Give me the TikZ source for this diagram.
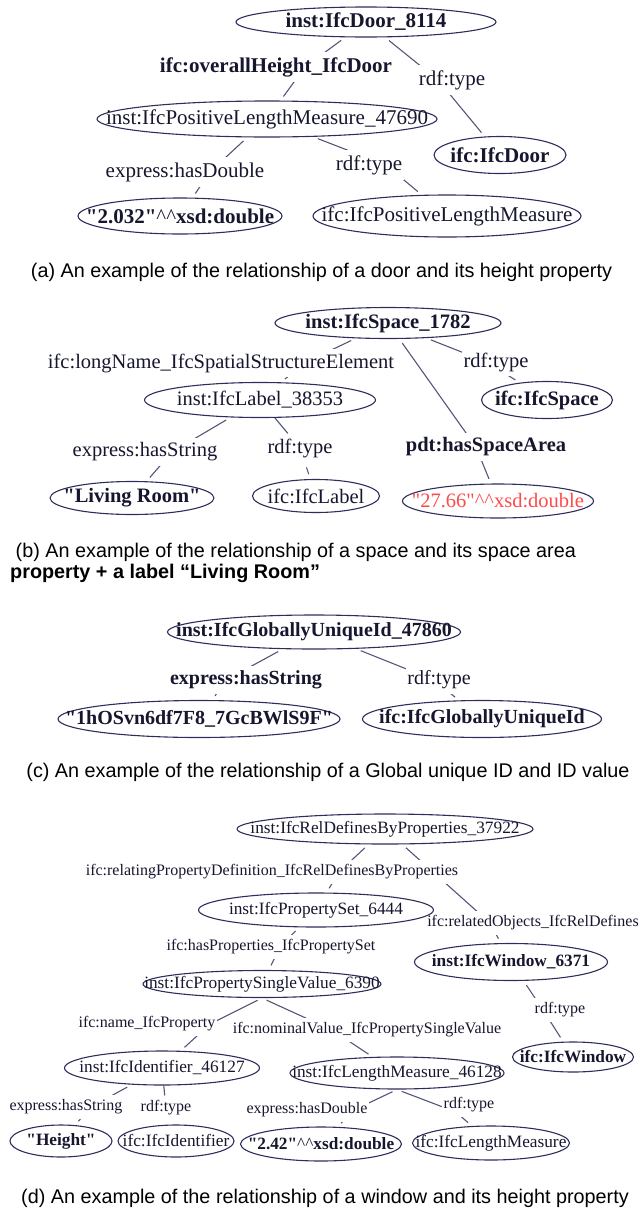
\documentclass[tikz,border=0pt]{standalone}
\usepackage{fontspec}
\setmainfont{Liberation Serif}[Ligatures=TeXOff]
\newfontfamily\capfont{Liberation Sans}
\usetikzlibrary{shapes.geometric,calc}
\pgfdeclarelayer{background}
\pgfsetlayers{background,main}
\definecolor{ellc}{HTML}{2E2E5C}
\definecolor{edgec}{HTML}{55557A}
\definecolor{txtc}{HTML}{16162E}
\definecolor{redt}{HTML}{FF4A4A}
\newcommand\zb[1]{\makebox[0pt]{#1}}
\newcommand\cc{\textasciicircum\textasciicircum}
\newcommand\dq{"}
\tikzset{
  nd/.style 2 args={ellipse, draw=ellc, line width=1.1pt, fill=white, inner sep=0pt,
    text=txtc, minimum width=#1pt, minimum height=#2pt},
  lb/.style={fill=white, inner xsep=1.5pt, inner ysep=5pt, text=txtc},
  edge/.style={draw=edgec, line width=1.1pt, shorten <=5pt, shorten >=5pt},
  fa/.style={font=\fontsize{21}{25}\selectfont},
  fb/.style={font=\fontsize{20.5}{24}\selectfont},
  fc/.style={font=\fontsize{20}{24}\selectfont},
  fd/.style={font=\fontsize{17.3}{20}\selectfont},
  fdl/.style={font=\fontsize{16}{19}\selectfont},
  capt/.style={font=\capfont\fontsize{19.8}{21}\selectfont, text=black, inner sep=0pt}
}
\begin{document}
\begin{tikzpicture}[x=1pt,y=-1pt]
\useasboundingbox (0,0) rectangle (641,1210);

% ---------- (a) ----------
\node[lb,fa] (oh)  at (276,67)  {\bfseries ifc:overallHeight\_IfcDoor};
\node[lb,fa] (rt1) at (452,80)  {rdf:type};
\node[lb,fa] (hd)  at (185,172) {express:hasDouble};
\node[lb,fa] (rt2) at (369,165) {rdf:type};
\node[nd={260}{30},fa] (door)    at (366,22)  {\zb{\bfseries inst:IfcDoor\_8114}};
\node[nd={340}{36},fa] (plm)     at (267,119) {\zb{inst:IfcPositiveLengthMeasure\_47690}};
\node[nd={132}{37},fa] (ifcdoor) at (500,155) {\zb{\bfseries ifc:IfcDoor}};
\node[nd={204}{36},fa] (v2032)   at (180,216) {\zb{\textbf{\dq2.032\dq}\cc\textbf{xsd:double}}};
\node[nd={268}{42},fa] (iplm)    at (447,216) {\zb{ifc:IfcPositiveLengthMeasure}};
\node[capt] (capa) at (321.5,272) {(a) An example of the relationship of a door and its height property};

% ---------- (b) ----------
\node[lb,fb] (ln)   at (221,363) {ifc:longName\_IfcSpatialStructureElement};
\node[lb,fb] (rtb1) at (496,362) {rdf:type};
\node[lb,fb] (hs)   at (145,452) {express:hasString};
\node[lb,fb] (rtb2) at (300,448) {rdf:type};
\node[lb,fb] (pdt)  at (486,447) {\bfseries pdt:hasSpaceArea};
\node[nd={226}{31},fb] (space)    at (388,323) {\zb{\bfseries inst:IfcSpace\_1782}};
\node[nd={231}{35},fb] (ilabel)   at (260,400) {\zb{inst:IfcLabel\_38353}};
\node[nd={131}{37},fb] (ifcspace) at (547,400) {\zb{\bfseries ifc:IfcSpace}};
\node[nd={164}{33},fb] (living)   at (132,498) {\zb{\bfseries \dq Living Room\dq}};
\node[nd={127}{33},fb] (ifclabel) at (316,496) {\zb{ifc:IfcLabel}};
\node[nd={191}{34},fb,text=redt] (area) at (498,501) {\zb{\dq27.66\dq\cc xsd:double}};
\node[capt, anchor=west, align=left] (capb) at (10,563)
  {\hspace*{5.5pt}(b) An example of the relationship of a space and its space area\\
   \textbf{property + a label “Living Room”}};

% ---------- (c) ----------
\node[lb,fc] (hsc) at (246,680) {\bfseries express:hasString};
\node[lb,fc] (rtc) at (439,680) {rdf:type};
\node[nd={293}{34},fc] (guid)    at (314,632) {\zb{\bfseries inst:IfcGloballyUniqueId\_47860}};
\node[nd={282}{37},fc] (hos)     at (199,719) {\zb{\bfseries \dq1hOSvn6df7F8\_7GcBWlS9F\dq}};
\node[nd={239}{37},fc] (ifcguid) at (482,719) {\zb{\bfseries ifc:IfcGloballyUniqueId}};
\node[capt] (capc) at (328,772) {(c) An example of the relationship of a Global unique ID and ID value};

% ---------- (d) ----------
\node[lb,fdl] (rp)  at (272,872)  {ifc:relatingPropertyDefinition\_IfcRelDefinesByProperties};
\node[lb,fdl] (ro)  at (533,923)  {ifc:relatedObjects\_IfcRelDefines};
\node[lb,fdl] (hp)  at (271,947)  {ifc:hasProperties\_IfcPropertySet};
\node[lb,fdl] (rtw) at (560,1010) {rdf:type};
\node[lb,fdl] (np)  at (147,1024) {ifc:name\_IfcProperty};
\node[lb,fdl] (nv)  at (367,1030) {ifc:nominalValue\_IfcPropertySingleValue};
\node[lb,fdl] (hsd) at (66,1107)  {express:hasString};
\node[lb,fdl] (rti) at (166,1108) {rdf:type};
\node[lb,fdl] (hdd) at (307,1110) {express:hasDouble};
\node[lb,fdl] (rtl) at (469,1105) {rdf:type};
\node[nd={296}{30},fd] (reldef)   at (385,829)  {\zb{inst:IfcRelDefinesByProperties\_37922}};
\node[nd={235}{34},fd] (pset)     at (316,910)  {\zb{inst:IfcPropertySet\_6444}};
\node[nd={193}{37},fd] (window)   at (511,962)  {\zb{\bfseries inst:IfcWindow\_6371}};
\node[nd={238}{27},fd] (psv)      at (262,984)  {\zb{inst:IfcPropertySingleValue\_6390}};
\node[nd={121}{30},fd] (ifcwin)   at (573,1057) {\zb{\bfseries ifc:IfcWindow}};
\node[nd={195}{34},fd] (ident)    at (162,1068) {\zb{inst:IfcIdentifier\_46127}};
\node[nd={214}{32},fd] (lm)       at (397,1073) {\zb{inst:IfcLengthMeasure\_46128}};
\node[nd={102}{32},fd] (height)   at (61,1141)  {\zb{\bfseries \dq Height\dq}};
\node[nd={116}{32},fd] (ifcident) at (176,1141) {\zb{ifc:IfcIdentifier}};
\node[nd={161}{34},fd] (v242)     at (321,1144) {\zb{\textbf{\dq2.42\dq}\cc\textbf{xsd:double}}};
\node[nd={157}{34},fd] (ifclm)    at (491,1143) {\zb{ifc:IfcLengthMeasure}};
\node[capt] (capd) at (325,1198) {(d) An example of the relationship of a window and its height property};

% ---------- connectors ----------
\begin{pgfonlayer}{background}
\draw[edge] (door) -- ($(oh)+(29,0)$) -- (plm);
\draw[edge] (door) -- ($(rt1)+(-14,0)$) -- (ifcdoor);
\draw[edge] (plm) -- ($(hd)+(25,0)$) -- (v2032);
\draw[edge] (plm) -- ($(rt2)+(17,0)$) -- (iplm);

\draw[edge] (space) -- ($(ln)+(83,0)$) -- (ilabel);
\draw[edge] (space) -- ($(rtb1)+(-9,0)$) -- (ifcspace);
\draw[edge] (space) -- ($(pdt)+(-10,0)$) -- (area);
\draw[edge] (ilabel) -- ($(hs)+(27,0)$) -- (living);
\draw[edge] (ilabel) -- (rtb2) -- (ifclabel);

\draw[edge] (guid) -- ($(hsc)+(-20,0)$) -- (hos);
\draw[edge] (guid) -- ($(rtc)+(-5,0)$) -- (ifcguid);

\draw[edge] (reldef) -- ($(rp)+(67,0)$) -- (pset);
\draw[edge] (reldef) -- ($(ro)+(-43,0)$) -- (window);
\draw[edge] (pset) -- ($(hp)+(9,0)$) -- (psv);
\draw[edge] (window) -- ($(rtw)+(-17,0)$) -- (ifcwin);
\draw[edge] (psv.south) -- ($(np)+(63,0)$) -- (ident);
\draw[edge] (psv.south) -- ($(nv)+(-35,0)$) -- (lm);
\draw[edge] (ident) -- ($(hsd)+(25,0)$) -- (height);
\draw[edge] (ident) -- (rti) -- (ifcident);
\draw[edge] (lm.south) -- ($(hdd)+(47,0)$) -- (v242);
\draw[edge] (lm.south) -- ($(rtl)+(-13,7)$) -- (ifclm);
\end{pgfonlayer}
\end{tikzpicture}
\end{document}
